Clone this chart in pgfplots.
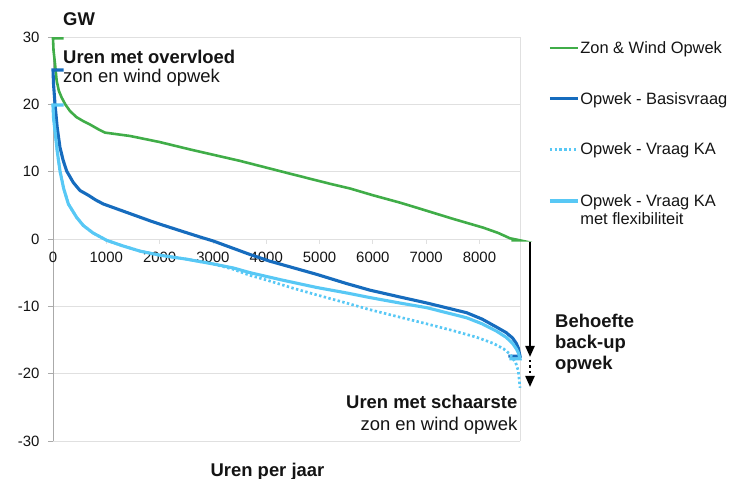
\documentclass[border=0pt]{standalone}
\usepackage{fontspec}
\setmainfont{Liberation Sans}
\usepackage{pgfplots}
\pgfplotsset{compat=1.18}
\usetikzlibrary{arrows.meta}
\definecolor{cgreen}{RGB}{64,173,72}
\definecolor{cblue}{RGB}{22,108,190}
\definecolor{clight}{RGB}{88,200,245}
\definecolor{gridc}{RGB}{224,224,224}
\definecolor{axc}{RGB}{170,170,170}
\definecolor{txt}{RGB}{20,20,20}
\newcommand{\bigf}{\fontsize{18.5}{22}\selectfont}
\begin{document}
\begin{tikzpicture}
\useasboundingbox (-53bp,-38bp) rectangle (677bp,441bp);
\begin{axis}[
  at={(0,0)}, anchor=south west,
  scale only axis, width=467bp, height=404bp,
  xmin=0, xmax=8760, ymin=-30, ymax=30,
  clip=false,
  axis x line*=middle, axis y line*=left,
  x axis line style={-, draw=gridc, line width=0.8bp},
  y axis line style={-, draw=axc, line width=0.8bp},
  xtick={0,1000,...,8000},
  xticklabels={0,1000,2000,3000,4000,5000,6000,7000,8000},
  ytick={-30,-20,...,30},
  yticklabels={-30,-20,-10,0,10,20,30},
  hide obscured x ticks=false,
  tick align=outside, major tick length=5bp,
  x tick style={draw=gridc, line width=0.8bp},
  y tick style={draw=axc, line width=0.8bp},
  ymajorgrids, grid style={draw=gridc, line width=0.8bp},
  tick label style={font=\fontsize{15}{18}\selectfont, text=txt},
  xticklabel style={yshift=-4.5bp},
  yticklabel style={xshift=-5bp},
  legend style={draw=none, fill=none, inner sep=0pt, at={(1.060,0.990)}, anchor=north west,
    font=\fontsize{16.5}{18}\selectfont, row sep=37.5bp, text=txt,
    nodes={inner xsep=1bp, inner ysep=0bp}},
  legend cell align=left,
  legend image code/.code={\draw[#1] (0bp,0bp) -- (28bp,0bp);},
]
\draw[gridc, line width=0.8bp] (rel axis cs:1,0) -- (rel axis cs:1,1);

\addplot[cgreen, line width=2.6bp] coordinates {
(200,29.8)(0,29.8)(10,28)(38,26)(69,23.5)(110,22)(163,21)(230,20)(319,19)(440,18.1)(569,17.5)(694,17.0)(850,16.3)(975,15.8)
(1444,15.3)(2000,14.4)(2570,13.3)(3508,11.6)(4446,9.7)(5196,8.2)(5572,7.5)(6000,6.5)(6509,5.4)
(6822,4.65)(7500,3.0)(8072,1.68)(8350,0.9)(8573,0.1)(8700,-0.1)(8760,-0.2)(8600,-0.2)};
\addlegendentry{Zon \& Wind Opwek}

\addplot[cblue, line width=3.1bp] coordinates {
(200,25.1)(0,25.1)(10,23)(38,20)(80,16.5)(131,13.6)(190,11.7)(256,10.1)(380,8.4)(506,7.2)(663,6.5)(800,5.8)(944,5.2)
(1400,3.9)(1820,2.7)(2007,2.2)(2400,1.2)(2757,0.3)(3007,-0.3)(3695,-2.3)(4070,-3.3)(4946,-5.25)(5500,-6.6)(5946,-7.6)
(6500,-8.6)(7010,-9.5)(7760,-10.95)(8050,-11.9)(8323,-13.1)(8500,-13.9)(8620,-14.7)(8690,-15.5)
(8729,-16.2)(8760,-17.4)(8540,-17.4)};
\addlegendentry{Opwek - Basisvraag}

\addplot[clight, line width=2.7bp, dash pattern=on 2.4bp off 2.4bp] coordinates {
(0,19.9)(10,18)(38,16)(80,13)(131,10.1)(200,7.5)(288,5.2)(444,3.2)(569,2.0)(750,0.9)(1007,-0.2)(1300,-1.0)(1632,-1.8)
(2000,-2.4)(2508,-3.0)(3000,-3.7)(3382,-4.5)(3695,-5.4)(4008,-6.1)(4500,-7.3)(4946,-8.3)(5500,-9.5)(5946,-10.5)
(6500,-11.6)(7010,-12.6)(7500,-13.6)(7948,-14.6)(8260,-15.5)(8450,-16.3)(8573,-17.1)(8680,-18.4)(8729,-19.6)(8760,-22.1)};
\addlegendentry{Opwek - Vraag KA}

\addplot[clight, line width=3.1bp] coordinates {
(200,19.9)(0,19.9)(10,18)(38,16)(80,13)(131,10.1)(200,7.5)(288,5.2)(444,3.2)(569,2.0)(750,0.9)(1007,-0.2)(1300,-1.0)
(1632,-1.8)(2000,-2.4)(2508,-3.0)(3000,-3.7)(3382,-4.3)(3695,-5.0)(4300,-6.1)(4946,-7.2)(5500,-8.0)(5946,-8.7)
(6500,-9.5)(7010,-10.2)(7760,-11.7)(8050,-12.6)(8323,-13.7)(8500,-14.6)(8620,-15.5)(8690,-16.3)
(8729,-16.9)(8760,-17.8)(8560,-17.8)};
\addlegendentry{\raisebox{0pt}[\height][3.5bp]{\begin{tabular}[t]{@{}l@{}}Opwek - Vraag KA\\met flexibiliteit\end{tabular}}}
\end{axis}

\node[anchor=base west, inner sep=0pt, font=\bigf\bfseries, text=txt] at (10bp,415bp) {GW};
\node[anchor=base west, inner sep=0pt, font=\bigf\bfseries, text=txt] at (10bp,377.7bp) {Uren met overvloed};
\node[anchor=base west, inner sep=0pt, font=\bigf, text=txt] at (10bp,358bp) {zon en wind opwek};
\node[anchor=base east, inner sep=0pt, font=\bigf\bfseries, text=txt] at (464.5bp,32.7bp) {Uren met schaarste};
\node[anchor=base east, inner sep=0pt, font=\bigf, text=txt] at (464.5bp,11bp) {zon en wind opwek};
\node[anchor=base west, inner sep=0pt, font=\bigf\bfseries, text=txt] at (502bp,113.7bp) {Behoefte};
\node[anchor=base west, inner sep=0pt, font=\bigf\bfseries, text=txt] at (502bp,92.7bp) {back-up};
\node[anchor=base west, inner sep=0pt, font=\bigf\bfseries, text=txt] at (502bp,71bp) {opwek};
\node[anchor=base, inner sep=0pt, font=\bigf\bfseries, text=txt] at (214.5bp,-35bp) {Uren per jaar};

\draw[black, line width=2.2bp, -{Triangle[width=9bp,length=11bp]}] (477bp,199bp) -- (477bp,84bp);
\draw[black, line width=2.2bp, dash pattern=on 2.5bp off 3bp, -{Triangle[width=9bp,length=11bp]}] (477bp,81bp) -- (477bp,54bp);
\end{tikzpicture}
\end{document}
